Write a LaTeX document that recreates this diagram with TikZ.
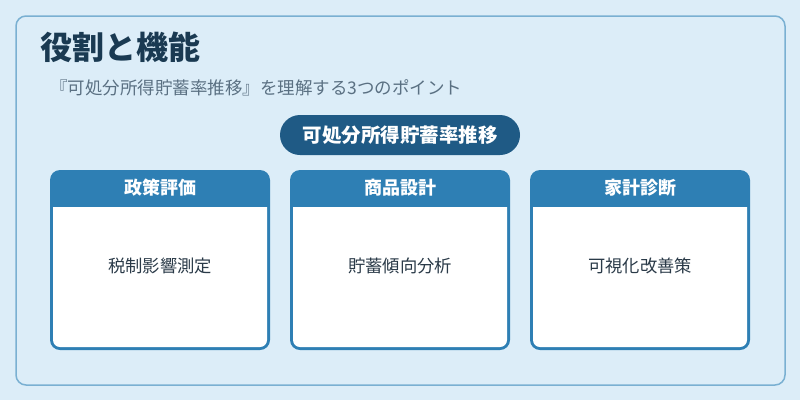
\documentclass[tikz,border=0pt]{standalone}
\usepackage{fontspec}
\setmainfont{Noto Sans CJK JP}
\usetikzlibrary{positioning}
\definecolor{bgblue}{HTML}{DCEDF8}
\definecolor{framecol}{HTML}{7AB0D2}
\definecolor{headblue}{HTML}{2E7FB4}
\definecolor{hubblue}{HTML}{1F5A85}
\definecolor{titlecol}{HTML}{1A3A52}
\definecolor{subcol}{HTML}{5A7082}
\definecolor{bodycol}{HTML}{2A3A48}
\tikzset{
  hub/.style={fill=hubblue,text=white,rounded corners=20pt,minimum width=240pt,minimum height=40pt,font=\fontsize{19.5}{21}\selectfont\bfseries},
  card/.style={fill=headblue,rounded corners=10pt,minimum width=220pt,minimum height=180pt,inner sep=0pt},
  headtext/.style={text=white,font=\fontsize{18}{20}\selectfont\bfseries},
  bodytext/.style={text=bodycol,font=\fontsize{17.3}{19}\selectfont}
}
\begin{document}
\begin{tikzpicture}[x=1pt,y=-1pt,line join=round]
  \fill[bgblue] (0,0) rectangle (800,400);
  \draw[framecol,line width=1.5pt,rounded corners=10pt] (16,16) rectangle (785,385);
  \node[anchor=west,inner sep=0pt,text=titlecol,font=\fontsize{32}{34}\selectfont\bfseries] (title) at (40,47) {役割と機能};
  \node[anchor=west,inner sep=0pt,text=subcol,font=\fontsize{17.5}{19}\selectfont] (subtitle) at (50,88) {『可処分所得貯蓄率推移』を理解する3つのポイント};
  \node[hub] (hub) at (400,135) {可処分所得貯蓄率推移};
  \foreach \i/\head/\body in {0/政策評価/税制影響測定,1/商品設計/貯蓄傾向分析,2/家計診断/可視化改善策}{
    \pgfmathsetmacro\xl{50+240*\i}
    \pgfmathsetmacro\xc{\xl+110}
    \node[card] (card\i) at (\xc,260) {};
    \fill[white] (\xl+3,207) [rounded corners=7pt]-- (\xl+3,347) -- (\xl+217,347) [sharp corners]-- (\xl+217,207) -- cycle;
    \node[headtext] (head\i) at (\xc,188) {\head};
    \node[bodytext] (body\i) at (\xc,266) {\body};
  }
\end{tikzpicture}
\end{document}
